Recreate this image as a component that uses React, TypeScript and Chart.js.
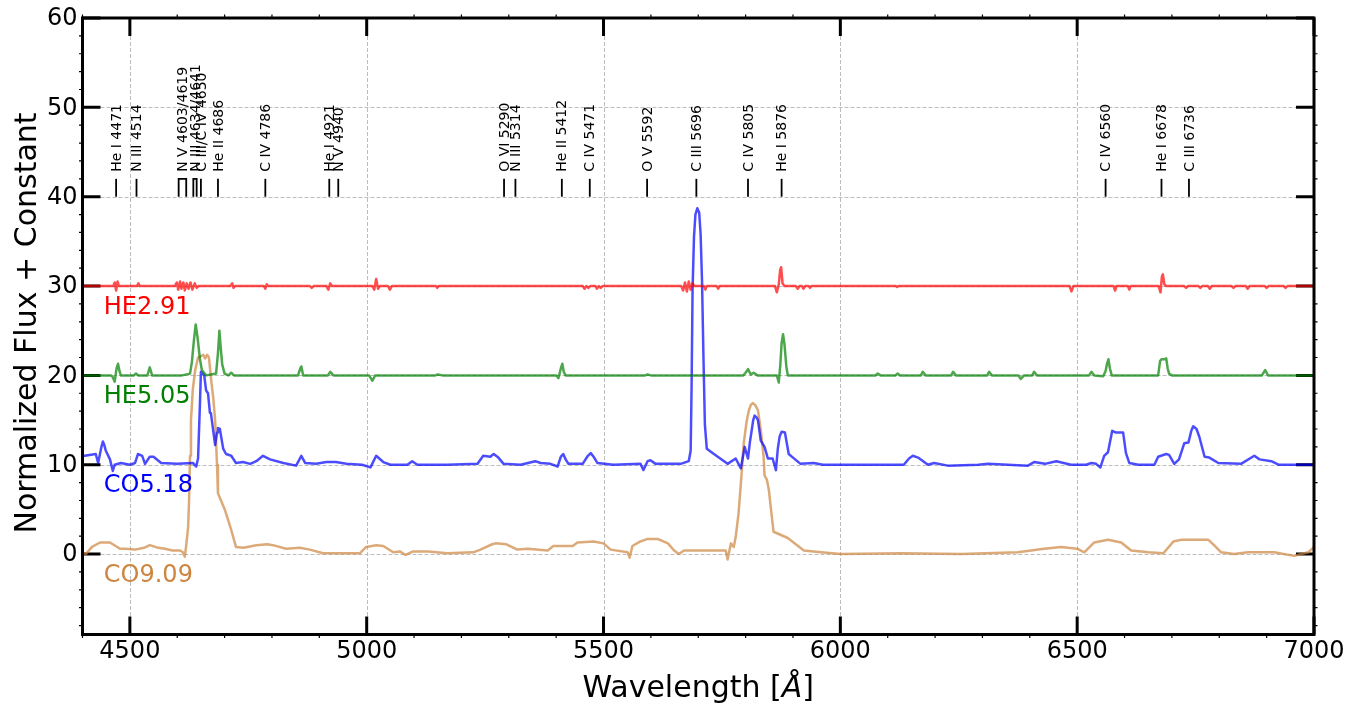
import React, { useEffect, useRef } from "react";
import { Chart, registerables } from "chart.js";

Chart.register(...registerables);

// ---------- data ----------
const xTicks = [4500, 5000, 5500, 6000, 6500, 7000];
const yTicks = [0, 10, 20, 30, 40, 50, 60];
const xRange = [4400, 7000];
const yRange = [-9, 60];

const seriesNames = ["HE2.91", "HE5.05", "CO5.18", "CO9.09"];
const seriesOffsets = [30, 20, 10, 0];
const seriesLineColors = [
  "rgba(255,0,0,0.7)",
  "rgba(0,128,0,0.7)",
  "rgba(0,0,255,0.7)",
  "rgba(205,133,63,0.7)",
];
const seriesTextColors = ["#ff0000", "#008000", "#0000ff", "#cd853f"];

// flux minus the vertical constant, [wavelength, value]
const fluxHE291: [number, number][] = [
  [4400, 0], [4465, 0], [4468, 0.4], [4471, -0.5], [4474, 0.5], [4477, 0],
  [4515, 0], [4518, 0.3], [4521, 0],
  [4595, 0], [4599, 0.4], [4602, -0.4], [4606, 0.5], [4609, -0.3], [4613, 0.4], [4616, -0.5],
  [4620, 0.3], [4624, -0.3], [4628, 0.4], [4632, -0.4], [4637, 0.3], [4641, -0.2], [4645, 0],
  [4712, 0], [4716, 0.3], [4719, -0.2], [4722, 0],
  [4783, 0], [4786, -0.3], [4789, 0.2], [4792, 0],
  [4880, 0], [4884, -0.2], [4888, 0],
  [4915, 0], [4919, -0.4], [4923, 0.3], [4927, 0],
  [5012, 0], [5016, -0.4], [5020, 0.8], [5024, -0.3], [5028, 0],
  [5045, 0], [5049, -0.4], [5053, 0],
  [5146, 0], [5149, -0.2], [5152, 0],
  [5456, 0], [5460, -0.3], [5464, 0], [5468, -0.2], [5472, 0], [5483, 0], [5486, -0.3], [5490, 0],
  [5494, -0.2], [5498, 0],
  [5664, 0], [5668, -0.5], [5672, 0.4], [5676, -0.6], [5680, 0.5], [5684, -0.4], [5688, 0.3], [5692, 0],
  [5712, 0], [5715, -0.4], [5718, 0],
  [5739, 0], [5742, -0.3], [5745, 0],
  [5862, 0], [5866, -0.7], [5870, 0.2], [5873, 1.8], [5875, 2.1], [5878, 0.3], [5882, 0],
  [5906, 0], [5910, -0.3], [5914, 0], [5919, 0], [5922, -0.3], [5926, 0], [5933, 0], [5936, -0.2], [5939, 0],
  [6117, 0], [6120, -0.1], [6123, 0],
  [6484, 0], [6488, -0.6], [6492, 0],
  [6577, 0], [6580, -0.5], [6583, 0],
  [6607, 0], [6610, -0.4], [6613, 0],
  [6672, 0], [6676, -0.7], [6679, 1.1], [6681, 1.3], [6684, 0.2], [6688, 0],
  [6726, 0], [6730, -0.2], [6734, 0],
  [6756, 0], [6760, -0.2], [6764, 0],
  [6776, 0], [6780, -0.3], [6784, 0],
  [6826, 0], [6830, -0.2], [6834, 0],
  [6856, 0], [6860, -0.3], [6864, 0],
  [6896, 0], [6900, -0.2], [6904, 0],
  [6936, 0], [6940, -0.2], [6944, 0],
  [7000, 0],
];

const fluxHE505: [number, number][] = [
  [4400, 0], [4460, 0], [4464, -0.2], [4468, -0.7], [4472, 0.8], [4475, 1.3], [4478, 0.5], [4481, 0],
  [4508, 0], [4513, 0.2], [4518, 0], [4537, 0], [4542, 0.9], [4547, 0],
  [4610, 0], [4627, 0.2], [4631, 1.5], [4635, 3.8], [4639, 5.7], [4643, 4.2], [4648, 1.8], [4652, 0.6], [4661, 0],
  [4682, 0.2], [4686, 2.5], [4689, 5.0], [4692, 3.0], [4695, 1.2], [4700, 0.2], [4708, 0], [4714, 0.3], [4720, 0],
  [4855, 0], [4860, 0.8], [4862, 1.0], [4866, 0], [4918, 0], [4923, 0.4], [4930, 0],
  [5005, 0], [5012, -0.6], [5018, 0], [5145, 0], [5150, 0.1], [5160, 0],
  [5400, 0], [5405, -0.3], [5410, 0.8], [5413, 1.3], [5416, 0.4], [5420, 0], [5588, 0], [5593, 0.1], [5600, 0],
  [5795, 0], [5800, 0.3], [5805, 0.7], [5811, 0.1], [5817, 0.3], [5825, 0],
  [5866, 0], [5870, -0.8], [5873, 1.0], [5876, 3.6], [5879, 4.6], [5882, 3.5], [5886, 1.0], [5889, 0],
  [6074, 0], [6079, 0.2], [6085, 0], [6116, 0], [6121, 0.2], [6126, 0], [6170, 0], [6174, 0.4], [6180, 0],
  [6234, 0], [6238, 0.4], [6244, 0], [6310, 0], [6314, 0.4], [6320, 0],
  [6376, 0], [6381, -0.4], [6388, 0], [6405, 0], [6409, 0.4], [6415, 0],
  [6525, 0], [6530, 0.4], [6536, 0], [6555, -0.1], [6560, 0.5], [6563, 1.3], [6566, 1.8], [6569, 0.8], [6573, 0], [6576, 0],
  [6671, 0], [6675, 1.6], [6678, 1.8], [6684, 1.8], [6688, 1.9], [6691, 0.8], [6694, 0.2], [6700, 0],
  [6890, 0], [6897, 0.6], [6903, 0], [7000, 0],
];

const fluxCO518: [number, number][] = [
  [4400, 1.0], [4405, 1.0], [4428, 1.2], [4433, 0.2], [4440, 2.0], [4443, 2.6], [4446, 2.2], [4449, 1.6], [4458, 0.6],
  [4464, -0.7], [4468, 0.0], [4481, 0.2], [4500, 0.0], [4511, 0.2], [4517, 1.2], [4526, 1.0],
  [4532, 0.1], [4542, 0.9], [4550, 0.9], [4566, 0.2], [4600, 0.1], [4633, 0.2], [4640, -0.2],
  [4644, 0.7], [4648, 6.9], [4650, 10.4], [4657, 10.0], [4661, 8.3], [4665, 8.0], [4669, 5.8],
  [4671, 5.8], [4680, 2.2], [4684, 3.6], [4686, 4.1], [4690, 4.0], [4697, 1.8], [4703, 1.2], [4714, 1.0],
  [4724, 0.2], [4739, 0.3], [4754, 0.1], [4767, 0.4], [4781, 1.0], [4796, 0.6], [4824, 0.2],
  [4851, -0.1], [4862, 1.0], [4870, 0.2], [4893, 0.1], [4915, 0.3], [4935, 0.3], [4957, 0.1],
  [4990, 0.0], [5008, -0.3], [5020, 1.0], [5035, 0.3], [5050, 0.0], [5086, 0.0], [5096, 0.4],
  [5107, 0.0], [5170, 0.0], [5234, 0.1], [5246, 1.0], [5261, 0.9], [5268, 1.2], [5278, 0.8],
  [5289, 0.1], [5325, 0.0], [5356, 0.4], [5367, 0.2], [5388, 0.1], [5403, -0.2], [5410, 0.9], [5415, 1.2],
  [5420, 0.6], [5426, 0.1], [5456, 0.1], [5467, 1.0], [5473, 1.3], [5479, 0.9], [5487, 0.2], [5521, 0.0], [5578, 0.1], [5584, -0.6],
  [5593, 0.4], [5599, 0.5], [5610, 0.1], [5663, 0.1], [5680, 0.4], [5684, 1.6], [5686, 9.0], [5688, 19.6],
  [5691, 25.5], [5694, 28.0], [5698, 28.7], [5702, 28.2], [5705, 25.8], [5708, 20.5], [5711, 12.0], [5714, 4.5], [5718, 1.8], [5733, 1.2],
  [5762, 0.1], [5779, 0.7], [5790, -0.4], [5798, 2.0], [5805, 0.7], [5809, 2.5], [5813, 3.9], [5816, 5.0], [5819, 5.5],
  [5823, 5.3], [5826, 5.0], [5832, 2.7], [5840, 2.0], [5847, 0.7], [5857, 0.7], [5864, -0.6], [5868, 1.8], [5872, 3.2],
  [5876, 3.7], [5883, 3.6], [5891, 1.2], [5900, 0.8], [5916, 0.1], [5944, 0.2], [5963, 0.0],
  [6134, 0.0], [6145, 0.7], [6153, 1.0], [6164, 0.8], [6185, 0.0], [6198, 0.2], [6227, -0.1], [6291, 0.0],
  [6312, 0.1], [6396, -0.1], [6409, 0.3], [6432, 0.1], [6456, 0.4], [6487, 0.0], [6519, 0.0],
  [6530, 0.2], [6540, 0.1], [6549, -0.3], [6557, 1.0], [6565, 1.4], [6574, 3.8], [6582, 3.6],
  [6597, 3.6], [6603, 1.3], [6610, 0.2], [6629, 0.0], [6663, 0.0], [6671, 0.9], [6688, 1.2],
  [6694, 1.1], [6705, 0.1], [6715, 0.6], [6726, 2.4], [6735, 2.5], [6741, 3.8], [6745, 4.3], [6752, 4.0],
  [6758, 3.1], [6769, 0.9], [6779, 0.8], [6798, 0.2], [6846, 0.1], [6874, 1.0], [6885, 0.6],
  [6910, 0.4], [6925, 0.0], [6988, 0.0], [7000, 0.0],
];

const fluxCO909: [number, number][] = [
  [4400, 0.2], [4407, 0.0], [4420, 0.8], [4437, 1.3], [4458, 1.3], [4470, 0.9], [4479, 0.6],
  [4490, 0.6], [4511, 0.5], [4530, 0.7], [4542, 1.0], [4560, 0.7], [4574, 0.6], [4590, 0.4],
  [4606, 0.4], [4612, 0.2], [4616, -0.3], [4619, 1.0], [4623, 3.0], [4625, 6.0], [4627, 11.0], [4629, 15.0],
  [4633, 18.5], [4638, 20.6], [4644, 22.0], [4655, 22.3], [4659, 21.9], [4663, 22.3], [4667, 22.0], [4671, 19.8],
  [4676, 17.5], [4680, 15.0], [4684, 10.0], [4686, 6.8], [4701, 4.9], [4714, 2.7], [4724, 0.8], [4740, 0.7], [4767, 1.0],
  [4790, 1.1], [4802, 1.0], [4830, 0.6], [4859, 0.7], [4880, 0.5], [4908, 0.1], [4950, 0.1],
  [4986, 0.1], [4999, 0.8], [5020, 1.0], [5035, 0.9], [5056, 0.2], [5070, 0.3], [5082, -0.1],
  [5098, 0.3], [5130, 0.3], [5170, 0.1], [5225, 0.2], [5240, 0.5], [5265, 1.1], [5272, 1.2],
  [5295, 1.1], [5318, 0.5], [5340, 0.6], [5382, 0.4], [5394, 0.9], [5435, 0.9], [5445, 1.3],
  [5479, 1.4], [5500, 1.2], [5515, 0.5], [5551, 0.2], [5555, -0.4], [5561, 0.9], [5577, 1.4], [5593, 1.7],
  [5614, 1.7], [5636, 1.2], [5649, 0.4], [5659, 0.0], [5670, 0.4], [5706, 0.4], [5742, 0.4],
  [5758, 0.4], [5762, -0.6], [5769, 1.2], [5775, 0.8], [5779, 1.9], [5785, 4.5], [5790, 7.9], [5796, 12.4],
  [5802, 14.8], [5807, 16.1], [5811, 16.7], [5815, 16.9], [5820, 16.7], [5826, 16.1], [5832, 13.9], [5838, 10.9],
  [5840, 8.8], [5845, 8.3], [5849, 7.2], [5854, 4.8], [5859, 2.5], [5889, 1.8], [5923, 0.4], [5959, 0.2], [6001, 0.0], [6128, 0.1],
  [6255, 0.0], [6375, 0.2], [6430, 0.6], [6466, 0.8], [6500, 0.6], [6515, 0.2], [6536, 1.3],
  [6565, 1.6], [6593, 1.3], [6614, 0.4], [6650, 0.2], [6682, 0.1], [6703, 1.4], [6720, 1.6],
  [6777, 1.6], [6789, 1.0], [6804, 0.2], [6831, 0.0], [6861, 0.2], [6916, 0.2], [6958, -0.2],
  [6988, 0.2], [6998, 0.7], [7000, 0.8],
];

const seriesFlux = [fluxHE291, fluxHE505, fluxCO518, fluxCO909];

// spectral line identifications
const lineLabels = [
  "He I 4471", "N III 4514", "N V 4603/4619", "N III 4634/4641", "C III/C IV 4650",
  "He II 4686", "C IV 4786", "He I 4921", "N V 4940", "O VI 5290", "N III 5314",
  "He II 5412", "C IV 5471", "O V 5592", "C III 5696", "C IV 5805", "He I 5876",
  "C IV 6560", "He I 6678", "C III 6736",
];
const lineWaves: number[][] = [
  [4471], [4514], [4603, 4619], [4634, 4641], [4650],
  [4686], [4786], [4921], [4940], [5290], [5314],
  [5412], [5471], [5592], [5696], [5805], [5876],
  [6560], [6678], [6736],
];
const markBase = 40;
const markTop = 42;

const FONT = "'DejaVu Sans', sans-serif";

const decorPlugin = {
  id: "decor",
  beforeDatasetsDraw(chart: any) {
    const { ctx, chartArea: a, scales } = chart;
    const xs = scales.x;
    const ys = scales.y;
    ctx.save();
    // grid
    ctx.strokeStyle = "#b5b5b5";
    ctx.lineWidth = 0.9;
    ctx.setLineDash([4, 2]);
    for (const v of xTicks) {
      const px = Math.round(xs.getPixelForValue(v)) + 0.5;
      ctx.beginPath();
      ctx.moveTo(px, a.top);
      ctx.lineTo(px, a.bottom);
      ctx.stroke();
    }
    for (const v of yTicks) {
      const py = Math.round(ys.getPixelForValue(v)) + 0.5;
      ctx.beginPath();
      ctx.moveTo(a.left, py);
      ctx.lineTo(a.right, py);
      ctx.stroke();
    }
    ctx.setLineDash([]);
    // major ticks (inward)
    ctx.strokeStyle = "#000";
    ctx.lineWidth = 3;
    const L = 18;
    for (const v of xTicks) {
      const px = xs.getPixelForValue(v);
      ctx.beginPath();
      ctx.moveTo(px, a.bottom);
      ctx.lineTo(px, a.bottom - L);
      ctx.moveTo(px, a.top);
      ctx.lineTo(px, a.top + L);
      ctx.stroke();
    }
    for (const v of yTicks) {
      const py = ys.getPixelForValue(v);
      ctx.beginPath();
      ctx.moveTo(a.left, py);
      ctx.lineTo(a.left + L, py);
      ctx.moveTo(a.right, py);
      ctx.lineTo(a.right - L, py);
      ctx.stroke();
    }
    // minor ticks
    ctx.lineWidth = 1.2;
    for (let v = xRange[0]; v <= xRange[1]; v += 100) {
      if (v % 500 === 0) continue;
      const px = xs.getPixelForValue(v);
      ctx.beginPath();
      ctx.moveTo(px, a.bottom - 1);
      ctx.lineTo(px, a.bottom + 3.5);
      ctx.moveTo(px, a.top + 1);
      ctx.lineTo(px, a.top - 3.5);
      ctx.stroke();
    }
    for (let v = -8; v <= 60; v += 2) {
      if (v % 10 === 0) continue;
      const py = ys.getPixelForValue(v);
      ctx.beginPath();
      ctx.moveTo(a.left + 1, py);
      ctx.lineTo(a.left - 3.5, py);
      ctx.moveTo(a.right - 1, py);
      ctx.lineTo(a.right + 3.5, py);
      ctx.stroke();
    }
    ctx.restore();
  },
  afterDatasetsDraw(chart: any) {
    const { ctx, chartArea: a, scales } = chart;
    const xs = scales.x;
    const ys = scales.y;
    ctx.save();
    // spines
    ctx.strokeStyle = "#000";
    ctx.lineWidth = 3;
    ctx.strokeRect(a.left, a.top, a.right - a.left, a.bottom - a.top);

    // line identification marks
    const yb = ys.getPixelForValue(markBase);
    const yt = ys.getPixelForValue(markTop);
    ctx.lineWidth = 1.8;
    ctx.fillStyle = "#000";
    ctx.font = `14px ${FONT}`;
    lineLabels.forEach((lab, i) => {
      const ws = lineWaves[i];
      const pxs = ws.map((w) => xs.getPixelForValue(w));
      ctx.beginPath();
      if (pxs.length === 1) {
        ctx.moveTo(pxs[0], yb);
        ctx.lineTo(pxs[0], yt);
      } else {
        ctx.moveTo(pxs[0], yb);
        ctx.lineTo(pxs[0], yt);
        ctx.lineTo(pxs[1], yt);
        ctx.lineTo(pxs[1], yb);
      }
      ctx.stroke();
      const cx = pxs.reduce((s, p) => s + p, 0) / pxs.length;
      ctx.save();
      ctx.translate(cx + 1, yt - 7);
      ctx.rotate(-Math.PI / 2);
      ctx.textAlign = "left";
      ctx.textBaseline = "middle";
      ctx.fillText(lab, 0, 0);
      ctx.restore();
    });

    // series names
    ctx.font = `24px ${FONT}`;
    ctx.textAlign = "left";
    ctx.textBaseline = "alphabetic";
    seriesNames.forEach((n, i) => {
      ctx.fillStyle = seriesTextColors[i];
      ctx.fillText(n, xs.getPixelForValue(4445), ys.getPixelForValue(seriesOffsets[i]) + 27.5);
    });

    // tick labels
    ctx.fillStyle = "#000";
    ctx.font = `24px ${FONT}`;
    ctx.textAlign = "center";
    ctx.textBaseline = "alphabetic";
    for (const v of xTicks) {
      ctx.fillText(String(v), xs.getPixelForValue(v), 658);
    }
    ctx.textAlign = "right";
    ctx.textBaseline = "middle";
    for (const v of yTicks) {
      ctx.fillText(String(v), a.left - 5, ys.getPixelForValue(v) + 1);
    }

    // x title
    ctx.font = `30px ${FONT}`;
    ctx.textBaseline = "alphabetic";
    ctx.textAlign = "left";
    const p1 = "Wavelength [";
    const p3 = "]";
    const w1 = ctx.measureText(p1).width;
    const w3 = ctx.measureText(p3).width;
    ctx.font = `italic 30px ${FONT}`;
    const w2 = ctx.measureText("Å").width;
    const total = w1 + w2 + w3;
    const sx = (a.left + a.right) / 2 - total / 2;
    ctx.font = `30px ${FONT}`;
    ctx.fillText(p1, sx, 697);
    ctx.font = `italic 30px ${FONT}`;
    ctx.fillText("Å", sx + w1, 697);
    ctx.font = `30px ${FONT}`;
    ctx.fillText(p3, sx + w1 + w2, 697);

    // y title
    ctx.save();
    ctx.translate(36, 323);
    ctx.rotate(-Math.PI / 2);
    ctx.textAlign = "center";
    ctx.textBaseline = "alphabetic";
    ctx.fillText("Normalized Flux + Constant", 0, 0);
    ctx.restore();

    ctx.restore();
  },
};

export default function App() {
  const ref = useRef<HTMLCanvasElement | null>(null);
  useEffect(() => {
    if (!ref.current) return;
    const datasets = seriesFlux.map((arr, i) => ({
      label: seriesNames[i],
      data: arr.map(([w, v]) => ({ x: w, y: v + seriesOffsets[i] })),
      borderColor: seriesLineColors[i],
      backgroundColor: seriesLineColors[i],
      borderWidth: 2.5,
      borderJoinStyle: "round" as const,
      borderCapStyle: "round" as const,
      pointRadius: 0,
      tension: 0,
      fill: false,
    }));
    const chart = new Chart(ref.current, {
      type: "line",
      data: { datasets },
      options: {
        animation: false,
        responsive: false,
        devicePixelRatio: 1,
        layout: { padding: { left: 82.5, right: 35, top: 18, bottom: 69.5 } },
        plugins: { legend: { display: false }, tooltip: { enabled: false } },
        scales: {
          x: { type: "linear", min: xRange[0], max: xRange[1], display: false },
          y: { type: "linear", min: yRange[0], max: yRange[1], display: false },
        },
      },
      plugins: [decorPlugin],
    } as any);
    return () => chart.destroy();
  }, []);
  return (
    <div style={{ position: "absolute", left: 0, top: 0, width: 1349, height: 704, background: "#fff" }}>
      <canvas ref={ref} width={1349} height={704} style={{ width: 1349, height: 704 }} />
    </div>
  );
}
